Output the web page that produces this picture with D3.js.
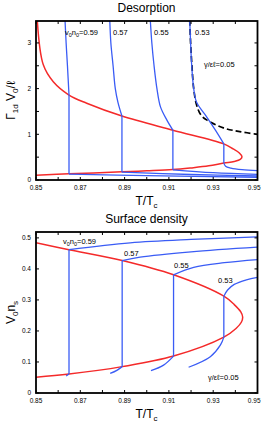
<!DOCTYPE html>
<html>
<head>
<meta charset="utf-8">
<script src="https://cdn.jsdelivr.net/npm/d3@7"></script>
<style>
body { margin: 0; background: #fff; }
svg { font-family: "Liberation Sans", Arial, sans-serif; }
</style>
</head>
<body>
<div id="graph"></div>
<script>
"use strict";

// T/Tc ticks, shared by both panels
let tempTicks = [0.85, 0.86, 0.87, 0.88, 0.89, 0.90, 0.91, 0.92, 0.93, 0.94, 0.95];
let tempLabels = [0.85, 0.87, 0.89, 0.91, 0.93, 0.95];
let desTicks = [0, 0.5, 1, 1.5, 2, 2.5, 3];
let desLabels = [0, 1, 2, 3];
let densTicks = [0, 0.1, 0.2, 0.3, 0.4, 0.5];
let curveNames = ["v0n0=0.59", "0.57", "0.55", "0.53"];

// Desorption panel: [T/Tc, Gamma V0 / l]
let desRed = [[0.8506, 3.48], [0.8533, 2.52], [0.8578, 2.15], [0.8649, 1.86], [0.8729, 1.68], [0.8888, 1.40],
	[0.9118, 1.09], [0.9348, 0.79], [0.939, 0.68], [0.9418, 0.59], [0.9430, 0.51], [0.9422, 0.45],
	[0.9395, 0.405], [0.9348, 0.37], [0.928, 0.31], [0.920, 0.265], [0.9118, 0.228], [0.900, 0.20],
	[0.8888, 0.178], [0.8649, 0.135], [0.85, 0.105]];
let des59Up = [[0.8631, 3.5], [0.8636, 3.0], [0.8642, 2.5], [0.8649, 1.86]];
let des57Up = [[0.8833, 3.5], [0.8838, 3.0], [0.8848, 2.5], [0.8858, 2.0], [0.8870, 1.70], [0.8888, 1.40]];
let des55Up = [[0.9016, 3.5], [0.9023, 3.0], [0.9033, 2.5], [0.9046, 2.0], [0.9062, 1.6], [0.9091, 1.31], [0.9118, 1.09]];
let des53Up = [[0.9194, 3.5], [0.9198, 3.0], [0.9203, 2.5], [0.9212, 2.0], [0.9225, 1.70], [0.9265, 1.42], [0.931, 1.09], [0.9348, 0.79]];
let des59Low = [[0.8649, 0.13], [0.90, 0.095], [0.95, 0.06]];
let des57Low = [[0.8888, 0.172], [0.92, 0.12], [0.95, 0.088]];
let des55Low = [[0.9118, 0.222], [0.93, 0.16], [0.95, 0.125]];
let des53Low = [[0.9348, 0.37], [0.9356, 0.30], [0.938, 0.26], [0.943, 0.225], [0.95, 0.205]];
let desDashed = [[0.9194, 3.5], [0.9198, 3.0], [0.9204, 2.5], [0.9212, 2.0], [0.9225, 1.64], [0.9245, 1.42],
	[0.9272, 1.31], [0.9346, 1.14], [0.942, 1.06], [0.95, 1.0]];

// Surface density panel: [T/Tc, V0 ns]
let densRed = [[0.85, 0.484], [0.8649, 0.462], [0.8889, 0.427], [0.9121, 0.381], [0.9348, 0.312], [0.9395, 0.285],
	[0.9424, 0.262], [0.9433, 0.245], [0.9427, 0.228], [0.9403, 0.208], [0.9348, 0.180], [0.9121, 0.119],
	[0.8889, 0.085], [0.8649, 0.061], [0.85, 0.051]];
let dens59Up = [[0.8649, 0.462], [0.8925, 0.484], [0.92, 0.495], [0.95, 0.503]];
let dens57Up = [[0.8889, 0.427], [0.897, 0.438], [0.92, 0.455], [0.95, 0.47]];
let dens55Up = [[0.9121, 0.381], [0.9212, 0.405], [0.935, 0.42], [0.95, 0.43]];
let dens53Up = [[0.9348, 0.312], [0.9365, 0.332], [0.9395, 0.350], [0.945, 0.365], [0.95, 0.373]];
let dens59Low = [[0.8649, 0.061], [0.8636, 0.055]];
let dens57Low = [[0.8889, 0.085], [0.8865, 0.073], [0.8835, 0.063]];
let dens55Low = [[0.9121, 0.119], [0.9076, 0.090], [0.9019, 0.072]];
let dens53Low = [[0.9348, 0.180], [0.9333, 0.155], [0.9287, 0.117], [0.9189, 0.083]];

let red = "#f42a2a";
let blue = "#3a5cf5";

let svg = d3.select("#graph").append("svg")
	.attr("width", 261)
	.attr("height", 425);

function drawPanel(opt)
{
	let x = d3.scaleLinear().domain([0.85, 0.95]).range([36, 257.5]);
	let y = d3.scaleLinear().domain(opt.yDomain).range([opt.bottom, opt.top]);
	let g = svg.append("g");

	let clipId = "clip" + opt.top;
	g.append("clipPath").attr("id", clipId)
		.append("rect").attr("x", 36).attr("y", opt.top).attr("width", 221.5).attr("height", opt.bottom - opt.top);

	let line = d3.line().x(d => x(d[0])).y(d => y(d[1])).curve(d3.curveCatmullRom.alpha(0.5));
	let straight = d3.line().x(d => x(d[0])).y(d => y(d[1]));
	let plot = g.append("g").attr("clip-path", "url(#" + clipId + ")");

	plot.append("path").attr("d", line(opt.red))
		.attr("fill", "none").attr("stroke", red).attr("stroke-width", 1.5);

	if (opt.dashed)
	{
		plot.append("path").attr("d", line(opt.dashed))
			.attr("fill", "none").attr("stroke", "#000").attr("stroke-width", 1.7)
			.attr("stroke-dasharray", "6,3");
	}

	for (let i = 0; i < opt.upper.length; i++)
	{
		let up = opt.upper[i];
		let low = opt.lower[i];
		let top = opt.dropFromEnd ? up[up.length - 1] : up[0];
		plot.append("path").attr("d", line(up))
			.attr("fill", "none").attr("stroke", blue).attr("stroke-width", 1.3);
		plot.append("path").attr("d", straight([top, low[0]]))
			.attr("fill", "none").attr("stroke", blue).attr("stroke-width", 1.3);
		plot.append("path").attr("d", line(low))
			.attr("fill", "none").attr("stroke", blue).attr("stroke-width", 1.3);
	}

	// ticks on all four sides, pointing inward
	let tickLen = 3;
	tempTicks.forEach(function(t)
	{
		g.append("line").attr("x1", x(t)).attr("x2", x(t)).attr("y1", opt.bottom).attr("y2", opt.bottom - tickLen)
			.attr("stroke", "#000").attr("stroke-width", 1);
		g.append("line").attr("x1", x(t)).attr("x2", x(t)).attr("y1", opt.top).attr("y2", opt.top + tickLen)
			.attr("stroke", "#000").attr("stroke-width", 1);
	});
	opt.yTicks.forEach(function(v)
	{
		g.append("line").attr("x1", 36).attr("x2", 36 + tickLen).attr("y1", y(v)).attr("y2", y(v))
			.attr("stroke", "#000").attr("stroke-width", 1);
		g.append("line").attr("x1", 257.5).attr("x2", 257.5 - tickLen).attr("y1", y(v)).attr("y2", y(v))
			.attr("stroke", "#000").attr("stroke-width", 1);
	});

	g.append("rect").attr("x", 36).attr("y", opt.top).attr("width", 221.5).attr("height", opt.bottom - opt.top)
		.attr("fill", "none").attr("stroke", "#000").attr("stroke-width", 1.8);

	tempLabels.forEach(function(t, i)
	{
		let last = i === tempLabels.length - 1;
		g.append("text").attr("x", last ? 260.5 : x(t)).attr("y", opt.bottom + 10)
			.attr("text-anchor", last ? "end" : "middle").attr("font-size", 6.5)
			.text(d3.format(".2f")(t));
	});
	opt.yLabels.forEach(function(v)
	{
		g.append("text").attr("x", 31).attr("y", y(v) + 2.3)
			.attr("text-anchor", "end").attr("font-size", 6.5)
			.text(v === 0 ? "0" : opt.yFormat(v));
	});

	g.append("text").attr("x", 146.5).attr("y", opt.top - 9)
		.attr("text-anchor", "middle").attr("font-size", 12).text(opt.title);

	let xl = g.append("text").attr("x", 146.5).attr("y", opt.bottom + 25)
		.attr("text-anchor", "middle").attr("font-size", 12);
	xl.append("tspan").text("T/T");
	xl.append("tspan").attr("font-size", 8).attr("dy", 3).text("c");

	let yl = g.append("text")
		.attr("transform", "translate(15," + ((opt.top + opt.bottom) / 2) + ") rotate(-90)")
		.attr("text-anchor", "middle").attr("font-size", 12);
	opt.yTitle.forEach(function(p)
	{
		let s = yl.append("tspan").text(p[0]);
		if (p[1]) s.attr("font-size", 8).attr("dy", 3);
		else s.attr("dy", p[2] || 0);
	});

	// curve annotations
	opt.notes.forEach(function(n, i)
	{
		let t = g.append("text").attr("x", n[0]).attr("y", n[1]).attr("font-size", 7.5);
		if (i === 0)
		{
			t.append("tspan").text("v");
			t.append("tspan").attr("font-size", 5.5).attr("dy", 1.5).text("0");
			t.append("tspan").attr("dy", -1.5).text("n");
			t.append("tspan").attr("font-size", 5.5).attr("dy", 1.5).text("0");
			t.append("tspan").attr("dy", -1.5).text("=0.59");
		}
		else
		{
			t.text(curveNames[i]);
		}
	});
	g.append("text").attr("x", opt.gamma[0]).attr("y", opt.gamma[1])
		.attr("font-size", 7.5).text("\u03b3/\u03b5\u2113=0.05");
}

drawPanel({
	top: 21, bottom: 180, yDomain: [0, 3.48],
	yTicks: desTicks, yLabels: desLabels, yFormat: d3.format("d"),
	title: "Desorption",
	yTitle: [["\u0393", false], ["1d", true], [" V", false, -3], ["0", true], ["/\u2113", false, -3]],
	red: desRed, dashed: desDashed,
	upper: [des59Up, des57Up, des55Up, des53Up],
	lower: [des59Low, des57Low, des55Low, des53Low],
	dropFromEnd: true,
	notes: [[65, 35], [113, 35], [154, 35], [195, 35]],
	gamma: [204, 67]
});

drawPanel({
	top: 232, bottom: 393, yDomain: [0, 0.519],
	yTicks: densTicks, yLabels: densTicks, yFormat: d3.format(".1f"),
	title: "Surface density",
	yTitle: [["V", false], ["0", true], ["n", false, -3], ["s", true]],
	red: densRed, dashed: null,
	upper: [dens59Up, dens57Up, dens55Up, dens53Up],
	lower: [dens59Low, dens57Low, dens55Low, dens53Low],
	dropFromEnd: false,
	notes: [[63, 244], [124, 256], [174, 268], [218, 283]],
	gamma: [208, 380]
});
</script>
</body>
</html>
